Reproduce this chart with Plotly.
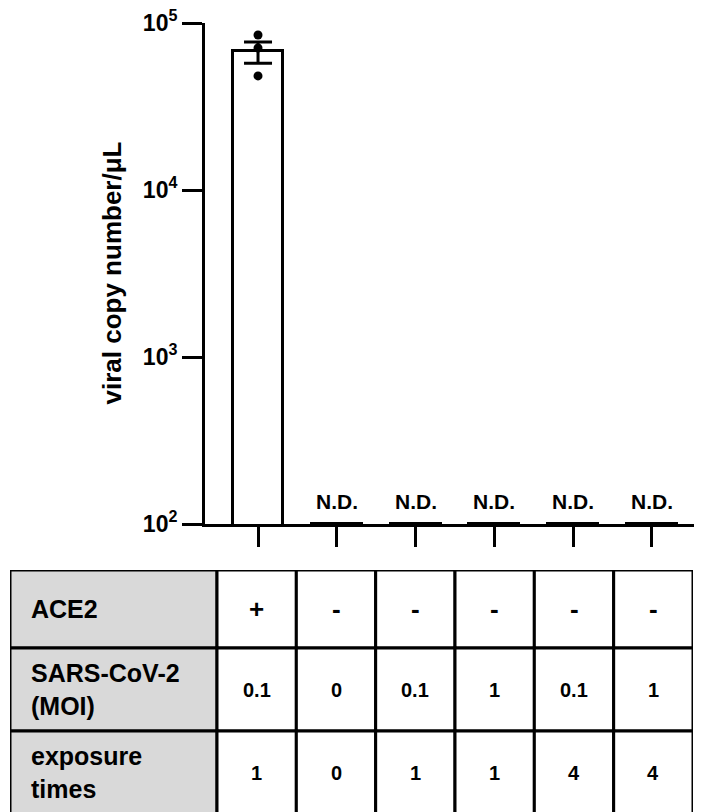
import plotly.graph_objects as go

# ---------------- data ----------------
categories = [0, 1, 2, 3, 4, 5]
bar_means = [67900, 100, 100, 100, 100, 100]
err_upper = [9100, 0, 0, 0, 0, 0]
err_lower = [10400, 0, 0, 0, 0, 0]

# individual replicates (value, jitter offset in category units)
pt_cat = [0, 0, 0,
          1, 1, 1, 2, 2, 2, 3, 3, 3, 4, 4, 4, 5, 5, 5]
pt_val = [84700, 70800, 48200,
          96, 96, 96, 96, 96, 96, 96, 96, 96, 96, 96, 96, 96, 96, 96]
pt_jit = [0, 0, 0,
          -0.2, 0, 0.2, -0.2, 0, 0.2, -0.2, 0, 0.2, -0.2, 0, 0.2, -0.2, 0, 0.2]

nd_cats = [1, 2, 3, 4, 5]
nd_label = "N.D."

ytick_vals = [100, 1000, 10000, 100000]
ytick_text = ["10<sup>2</sup>", "10<sup>3</sup>", "10<sup>4</sup>", "10<sup>5</sup>"]
y_title = "viral copy number/μL"

row_labels = ["ACE2", "SARS-CoV-2<br>(MOI)", "exposure<br>times"]
ace2_vals = ["+", "-", "-", "-", "-", "-"]
moi_vals = ["0.1", "0", "0.1", "1", "0.1", "1"]
exposure_vals = ["1", "0", "1", "1", "4", "4"]

# ---------------- layout constants (page has an 8px body margin) ----------------
OFF = 8
W, H = 702 - OFF, 812 - OFF
FONT = "Liberation Sans, Arial, sans-serif"
LW = 3

AX_X = 205 - OFF          # y-axis line
PLOT_TOP = 23 - OFF
PLOT_BOT = 524 - OFF
TBL_L, TBL_R, TBL_T = 10 - OFF, 693 - OFF, 570 - OFF

fig = go.Figure()

fig.add_trace(go.Bar(
    x=categories, y=bar_means, width=0.635,
    marker=dict(color="white", line=dict(color="black", width=LW)),
    cliponaxis=False, showlegend=False, xaxis="x", yaxis="y"))

fig.add_trace(go.Scatter(
    x=[categories[0]], y=[bar_means[0]], mode="markers",
    marker=dict(size=1, color="rgba(0,0,0,0)"),
    error_y=dict(type="data", symmetric=False, array=[err_upper[0]],
                 arrayminus=[err_lower[0]], color="black", thickness=LW, width=14),
    showlegend=False, xaxis="x", yaxis="y"))

fig.add_trace(go.Scatter(
    x=[c + j for c, j in zip(pt_cat, pt_jit)], y=pt_val, mode="markers",
    marker=dict(size=9, color="black"), cliponaxis=False,
    showlegend=False, xaxis="x", yaxis="y"))

annotations = []
for c in nd_cats:
    annotations.append(dict(x=c, y=2, xref="x", yref="y", text="<b>%s</b>" % nd_label,
                            showarrow=False, yanchor="bottom", yshift=9,
                            font=dict(size=21, family=FONT, color="black")))

# y-axis title
annotations.append(dict(x=(111 - OFF) / W, y=1 - ((PLOT_TOP + PLOT_BOT) / 2) / H,
                        xref="paper", yref="paper", text="<b>%s</b>" % y_title,
                        textangle=-90, showarrow=False, xanchor="center", yanchor="middle",
                        font=dict(size=26, family=FONT, color="black")))

# ---------------- table (drawn on its own axes, pixel-like units) ----------------
first_w = 207
other_w = (TBL_R - TBL_L - first_w) / 6
col_edges = [0, first_w] + [first_w + other_w * (i + 1) for i in range(6)]
row_edges = [0, 78, 161, 244]
rows = [ace2_vals, moi_vals, exposure_vals]
shapes = []
for r in range(3):
    y0, y1 = row_edges[r], row_edges[r + 1]
    ym = (y0 + y1) / 2
    for c in range(7):
        shapes.append(dict(type="rect", xref="x2", yref="y2",
                           x0=col_edges[c], x1=col_edges[c + 1], y0=y0, y1=y1,
                           fillcolor="#d9d9d9" if c == 0 else "white",
                           line=dict(color="black", width=LW), layer="below"))
    annotations.append(dict(x=19, y=ym, xref="x2", yref="y2",
                            text="<b>%s</b>" % row_labels[r], showarrow=False,
                            xanchor="left", yanchor="middle", align="left",
                            font=dict(size=25, family=FONT, color="black")))
    for c in range(6):
        v = rows[r][c]
        size = 26 if v in ("+", "-") else 20
        annotations.append(dict(x=(col_edges[c + 1] + col_edges[c + 2]) / 2, y=ym,
                                xref="x2", yref="y2", text="<b>%s</b>" % v,
                                showarrow=False, xanchor="center", yanchor="middle",
                                font=dict(size=size, family=FONT, color="black")))

fig.update_layout(
    width=W, height=H,
    margin=dict(l=0, r=0, t=0, b=0, autoexpand=False),
    paper_bgcolor="white", plot_bgcolor="white",
    font=dict(family=FONT, color="black"),
    bargap=0,
    xaxis=dict(domain=[AX_X / W, 1], range=[-0.673, 5.635], tickvals=categories,
               showticklabels=False, ticks="outside", ticklen=20, tickwidth=LW,
               tickcolor="black", showline=True, linewidth=LW, linecolor="black",
               showgrid=False, zeroline=False, anchor="y", automargin=False),
    yaxis=dict(domain=[1 - PLOT_BOT / H, 1 - PLOT_TOP / H], type="log", range=[2, 5],
               tickvals=ytick_vals, ticktext=["<b>%s</b>" % t for t in ytick_text],
               ticks="outside", ticklen=20, tickwidth=LW, tickcolor="black",
               tickfont=dict(size=23, family=FONT, color="black"),
               ticklabeloverflow="allow",
               showline=True, linewidth=LW, linecolor="black",
               showgrid=False, zeroline=False, anchor="x", automargin=False),
    xaxis2=dict(domain=[TBL_L / W, TBL_R / W], range=[0, col_edges[-1]], visible=False,
                anchor="y2", automargin=False),
    yaxis2=dict(domain=[0, 1 - TBL_T / H], range=[H - TBL_T, 0], visible=False,
                anchor="x2", automargin=False),
    shapes=shapes,
    annotations=annotations,
)

fig.write_html("out.html")
